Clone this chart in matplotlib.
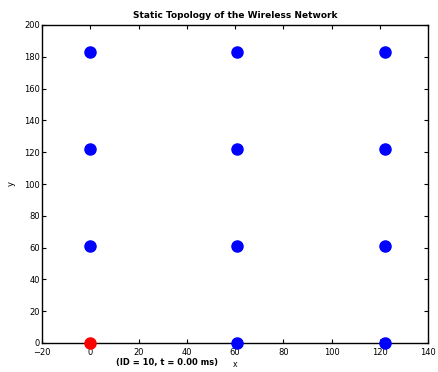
import matplotlib
matplotlib.use("Agg")
import matplotlib.pyplot as plt

blue_x = [0, 61, 122, 0, 61, 122, 0, 61, 122, 61, 122]
blue_y = [183, 183, 183, 122, 122, 122, 61, 61, 61, 0, 0]
red_x = [0]
red_y = [0]
xticks = [-20, 0, 20, 40, 60, 80, 100, 120, 140]
yticks = [0, 20, 40, 60, 80, 100, 120, 140, 160, 180, 200]

fig = plt.figure(figsize=(4.38, 3.72), dpi=100)
ax = fig.add_axes([42/438, 1-343/372, (428-42)/438, (343-25)/372])
ax.plot(blue_x, blue_y, 'o', color='#0000ff', markersize=8, markeredgecolor='#0000ff', clip_on=False, zorder=3)
ax.plot(red_x, red_y, 'o', color='#ff0000', markersize=8, markeredgecolor='#ff0000', clip_on=False, zorder=3)
ax.set_xlim(-20, 140)
ax.set_ylim(0, 200)
ax.set_xticks(xticks)
ax.set_yticks(yticks)
ax.tick_params(direction='in', top=True, right=True, labelsize=6, length=3, pad=1.5)
ax.tick_params(axis='x', pad=3.5)
ax.set_title('Static Topology of the Wireless Network', fontsize=6.5, fontweight='bold', pad=5)
ax.set_xlabel('x', fontsize=5.5, labelpad=2)
ax.set_ylabel('y', fontsize=6, labelpad=6)
ax.text(32, -12.0, '(ID = 10, t = 0.00 ms)', fontsize=6, fontweight='bold', ha='center', va='center', clip_on=False)
for s in ax.spines.values():
    s.set_linewidth(1.0)
fig.savefig('out.png', dpi=100)
